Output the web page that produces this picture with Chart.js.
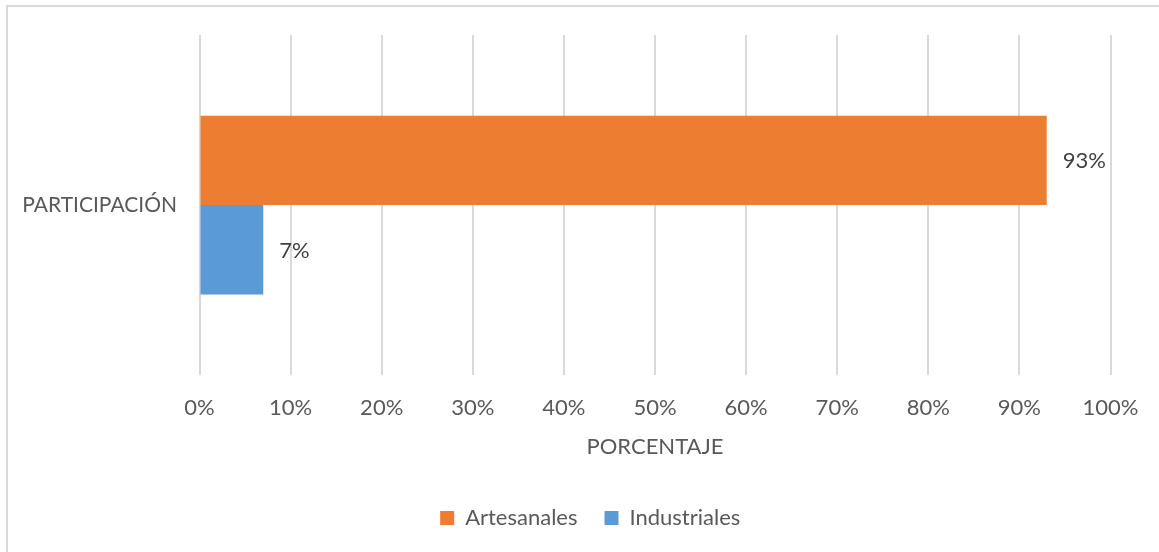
<!DOCTYPE html>
<html>
<head>
<meta charset="utf-8">
<script src="https://cdn.jsdelivr.net/npm/chart.js@4/dist/chart.umd.min.js"></script>
<style>
  html, body { margin: 0; padding: 0; background: #fff; }
  #wrap { position: absolute; left: 0; top: 0; width: 1159px; height: 552px; }
</style>
</head>
<body>
<div id="wrap"><canvas id="grafico"></canvas></div>
<script>
// Datos del gráfico
const categorias = ['PARTICIPACIÓN'];
const nombresSeries = ['Artesanales', 'Industriales'];
const artesanales = [93];
const industriales = [7];
const tituloEjeX = 'PORCENTAJE';

const fuente = 'Lato, "Open Sans", sans-serif';
const colorTexto = '#595959';

// Marco gris arriba e izquierda (el original está recortado)
const marco = {
  id: 'marco',
  // la leyenda va centrada un poco a la derecha, como en Excel
  afterLayout(chart) {
    chart.legend.left += 35;
    chart.legend.right += 35;
  },
  beforeDraw(chart) {
    const ctx = chart.ctx;
    ctx.save();
    ctx.fillStyle = '#fff';
    ctx.fillRect(0, 0, chart.width, chart.height);
    ctx.fillStyle = '#d9d9d9';
    ctx.fillRect(6, 5, 2, chart.height - 5);
    ctx.fillRect(6, 5, chart.width - 6, 2);
    ctx.restore();
  }
};

// Etiquetas de valor a la derecha de cada barra
const etiquetas = {
  id: 'etiquetas',
  afterDatasetsDraw(chart) {
    const ctx = chart.ctx;
    ctx.save();
    ctx.font = '22px ' + fuente;
    ctx.fillStyle = '#404040';
    ctx.textAlign = 'left';
    ctx.textBaseline = 'middle';
    chart.data.datasets.forEach((ds, i) => {
      chart.getDatasetMeta(i).data.forEach((bar, j) => {
        ctx.fillText(ds.data[j] + '%', bar.x + 16, bar.y + 1);
      });
    });
    ctx.restore();
  }
};

new Chart(document.getElementById('grafico'), {
  type: 'bar',
  data: {
    labels: categorias,
    datasets: [
      { label: nombresSeries[0], data: artesanales, backgroundColor: '#ED7D31' },
      { label: nombresSeries[1], data: industriales, backgroundColor: '#5B9BD5' }
    ]
  },
  options: {
    indexAxis: 'y',
    responsive: true,
    maintainAspectRatio: false,
    animation: false,
    datasets: { bar: { barPercentage: 1, categoryPercentage: 0.526 } },
    layout: { padding: { top: 34.5, left: 0, right: 48.5, bottom: 13 } },
    scales: {
      x: {
        min: 0,
        max: 100,
        ticks: {
          stepSize: 10,
          padding: 20,
          color: colorTexto,
          font: { family: fuente, size: 22 },
          callback: (v) => v + '%'
        },
        grid: { color: '#d9d9d9', lineWidth: 2, drawTicks: false },
        border: { display: false },
        title: {
          display: true,
          text: tituloEjeX,
          color: colorTexto,
          font: { family: fuente, size: 22 },
          padding: { top: 0, bottom: 19.5 }
        },
        afterFit: (s) => { s.height = 105; }
      },
      y: {
        ticks: {
          padding: 22.5,
          color: colorTexto,
          font: { family: fuente, size: 21 }
        },
        grid: { display: false, drawTicks: false },
        border: { display: false },
        afterFit: (s) => { s.width = 199.5; }
      }
    },
    plugins: {
      legend: {
        position: 'bottom',
        labels: {
          boxWidth: 14,
          boxHeight: 14,
          padding: 27,
          color: colorTexto,
          font: { family: fuente, size: 22 }
        }
      },
      tooltip: { enabled: false }
    }
  },
  plugins: [marco, etiquetas]
});
</script>
</body>
</html>
